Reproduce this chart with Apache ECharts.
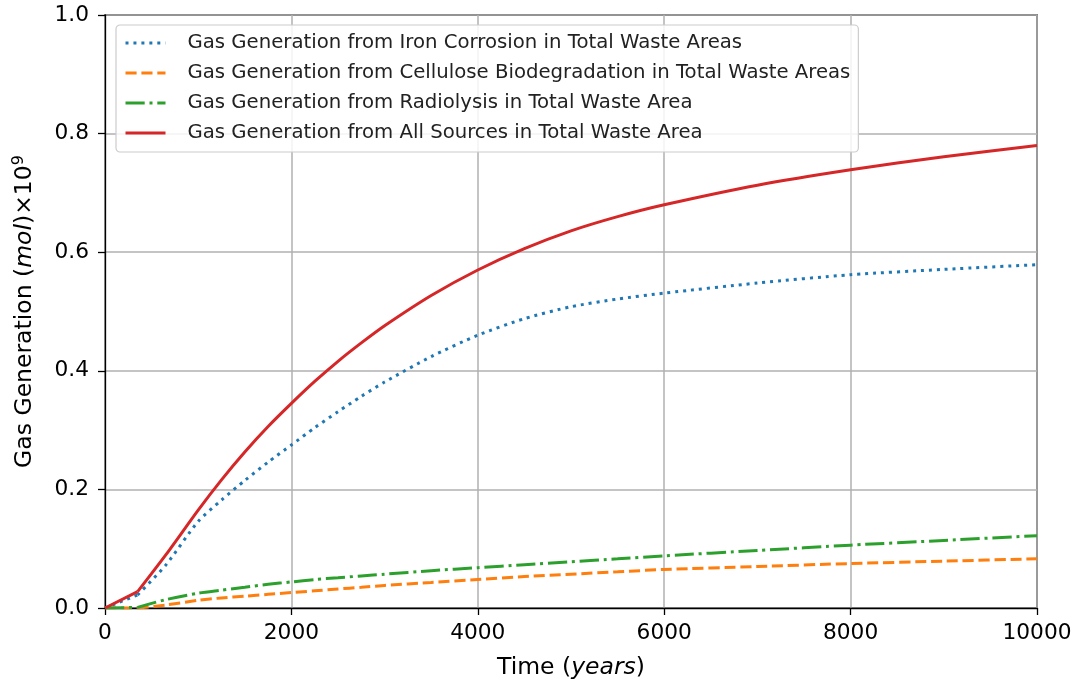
<!DOCTYPE html>
<html>
<head>
<meta charset="utf-8">
<script src="https://cdn.jsdelivr.net/npm/echarts@6/dist/echarts.min.js"></script>
<style>html,body{margin:0;padding:0;background:#fff}#c{width:1083px;height:689px}</style>
</head>
<body>
<div id="c"></div>
<script>
const years = [0, 350, 650, 1000, 1250, 1500, 1750, 2000, 2250, 2500, 2750, 3000, 3500, 4000, 4500, 5000, 5500, 6000, 7000, 8000, 9000, 10000];
const ironCorrosion = [0, 0.022, 0.072, 0.146, 0.182, 0.215, 0.246, 0.275, 0.304, 0.331, 0.357, 0.381, 0.424, 0.460, 0.488, 0.508, 0.521, 0.531, 0.548, 0.562, 0.571, 0.579];
const cellulose = [0, 0, 0.005, 0.013, 0.017, 0.020, 0.023, 0.026, 0.029, 0.032, 0.035, 0.038, 0.043, 0.048, 0.053, 0.057, 0.061, 0.065, 0.070, 0.075, 0.079, 0.083];
const radiolysis = [0, 0.001, 0.014, 0.025, 0.030, 0.035, 0.040, 0.044, 0.048, 0.051, 0.054, 0.057, 0.063, 0.068, 0.073, 0.078, 0.083, 0.088, 0.097, 0.106, 0.114, 0.122];
const allSources = [0, 0.0275, 0.089, 0.165, 0.216, 0.263, 0.306, 0.345, 0.382, 0.416, 0.447, 0.476, 0.527, 0.570, 0.606, 0.636, 0.660, 0.680, 0.713, 0.739, 0.761, 0.780];
const seriesNames = [
  'Gas Generation from Iron Corrosion in Total Waste Areas',
  'Gas Generation from Cellulose Biodegradation in Total Waste Areas',
  'Gas Generation from Radiolysis in Total Waste Area',
  'Gas Generation from All Sources in Total Waste Area'
];
const xTicks = [0, 2000, 4000, 6000, 8000, 10000];
const yTicks = [0.0, 0.2, 0.4, 0.6, 0.8, 1.0];

const F = 'DejaVu Sans';
const lw = 3;
const KINK = 1; // index of the sharp corner at ~350 years
function pairs(arr, from, to){ return years.slice(from, to).map((x,i)=>[x, arr[from + i]]); }
function mk(name, arr, color, type){
  const base = {
    name, type: 'line', symbol: 'none', showSymbol: false,
    lineStyle: {color, width: lw, type, cap: 'butt'},
    itemStyle: {color},
    animation: false
  };
  return [
    Object.assign({}, base, {data: pairs(arr, 0, KINK + 1)}),
    Object.assign({}, base, {data: pairs(arr, KINK, years.length), smooth: 0.25})
  ];
}
const chart = echarts.init(document.getElementById('c'), null, {renderer: 'canvas'});
chart.setOption({
  backgroundColor: '#ffffff',
  animation: false,
  textStyle: {fontFamily: F},
  grid: {left: 105, right: 46, top: 15, bottom: 81, show: true, borderColor: '#000', borderWidth: 1.3, backgroundColor: 'transparent'},
  legend: {
    orient: 'vertical', left: 116, top: 25,
    padding: [8, 8, 9, 8],
    itemWidth: 40, itemHeight: 16, itemGap: 10,
    backgroundColor: 'rgba(255,255,255,0.85)',
    borderColor: '#cccccc', borderWidth: 1.2, borderRadius: 4,
    itemStyle: {opacity: 0},
    lineStyle: {width: 3},
    textStyle: {fontFamily: F, fontSize: 19.7, color: '#222', padding: [0, 0, 0, 17], lineHeight: 20},
    data: seriesNames
  },
  xAxis: {
    type: 'value', min: 0, max: 10000, interval: 2000,
    name: '{n|Time (}{i|years}{n|)}', nameLocation: 'middle', nameGap: 48,
    nameTextStyle: {rich: {n: {fontFamily: F, fontSize: 23.5, color: '#000'}, i: {fontFamily: F, fontSize: 23.5, fontStyle: 'italic', color: '#000'}}},
    axisLine: {show: true, lineStyle: {color: '#000', width: 1.3}},
    axisTick: {show: true, length: 7, lineStyle: {color: '#000', width: 1.3}},
    axisLabel: {fontFamily: F, fontSize: 21.7, color: '#000', margin: 14, formatter: v => xTicks.includes(v) ? String(v) : ''},
    splitLine: {show: true, lineStyle: {color: '#b0b0b0', width: 1.5}}
  },
  yAxis: {
    type: 'value', min: 0, max: 1, interval: 0.2,
    name: '{n|Gas Generation (}{i|mol}{n|)×10}{s|9}', nameLocation: 'middle', nameGap: 66,
    nameTextStyle: {rich: {
      n: {fontFamily: F, fontSize: 23.5, color: '#000'},
      i: {fontFamily: F, fontSize: 23.5, fontStyle: 'italic', color: '#000'},
      s: {fontFamily: F, fontSize: 16, color: '#000', verticalAlign: 'top', padding: [0,0,12,0]}
    }},
    axisLine: {show: true, lineStyle: {color: '#000', width: 1.3}},
    axisTick: {show: true, length: 7, lineStyle: {color: '#000', width: 1.3}},
    axisLabel: {fontFamily: F, fontSize: 21.7, color: '#000', margin: 16, formatter: v => {
      const t = yTicks.find(k => Math.abs(k - v) < 1e-9);
      return t === undefined ? '' : t.toFixed(1);
    }},
    splitLine: {show: true, lineStyle: {color: '#b0b0b0', width: 1.5}}
  },
  series: [].concat(
    mk(seriesNames[0], ironCorrosion, '#1f77b4', [3, 4.95]),
    mk(seriesNames[1], cellulose, '#ff7f0e', [11.1, 4.8]),
    mk(seriesNames[2], radiolysis, '#2ca02c', [19.2, 4.8, 3, 4.8]),
    mk(seriesNames[3], allSources, '#d62728', 'solid')
  )
});
</script>
</body>
</html>
